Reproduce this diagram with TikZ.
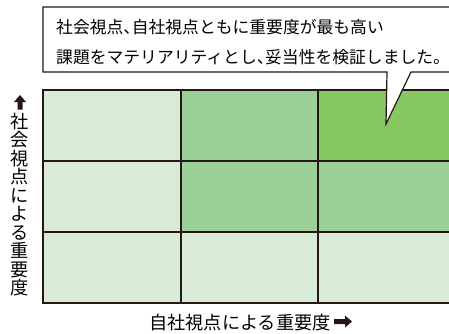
\documentclass[tikz,border=0pt]{standalone}
\usepackage{fontspec}
\newfontfamily\jp[RawFeature=+halt]{Noto Sans CJK JP}
\newfontfamily\jpax{Noto Sans CJK JP}
\definecolor{cellA}{RGB}{217,235,214}
\definecolor{cellB}{RGB}{155,209,153}
\definecolor{cellC}{RGB}{134,199,100}
\definecolor{edge}{RGB}{35,24,21}
\tikzset{
  cell/.style={draw=edge,line width=1.3pt,anchor=north west,inner sep=0pt,outer sep=0pt,minimum height=71pt},
  colA/.style={cell,minimum width=138pt},
  colB/.style={cell,minimum width=137pt},
  colC/.style={cell,minimum width=142pt},
  calltext/.style={anchor=base west,inner sep=0pt,font=\jp\fontsize{16.8}{20}\selectfont},
  axislab/.style={inner sep=0pt,font=\jpax\fontsize{18.2}{18.5}\selectfont},
  fatarrow/.style={fill=edge}
}
\begin{document}
\begin{tikzpicture}[x=1pt,y=-1pt]
\useasboundingbox (0,0) rectangle (449,333);
\clip (0,0) rectangle (449,333);
% grid
\node[colA,fill=cellA] (c11) at (43,90) {};
\node[colB,fill=cellB] (c12) at (181,90) {};
\node[colC,fill=cellC] (c13) at (318,90) {};
\node[colA,fill=cellA] (c21) at (43,161) {};
\node[colB,fill=cellB] (c22) at (181,161) {};
\node[colC,fill=cellB] (c23) at (318,161) {};
\node[colA,fill=cellA] (c31) at (43,232) {};
\node[colB,fill=cellA] (c32) at (181,232) {};
\node[colC,fill=cellA] (c33) at (318,232) {};
% callout
\draw[edge,line width=1.2pt,fill=white,line join=miter]
  (387,72) -- (43,72) -- (43,7) -- (470,7) -- (470,72) -- (411,72) -- (386,124) -- cycle;
\node[calltext] (t1) at (56,33) {社会視点、自社視点ともに重要度が最も高い};
\node[calltext] (t2) at (56,63) {課題をマテリアリティとし、妥当性を検証しました。};
% axis labels
\coordinate (ytip) at (20,95);
\fill[fatarrow] (ytip) -- ++(6,7) -- ++(-3.5,0) -- ++(0,7.5) -- ++(-5,0) -- ++(0,-7.5) -- ++(-3.5,0) -- cycle;
\node[axislab,align=center] (ylab) at (20,204.5) {社\\会\\視\\点\\に\\よ\\る\\重\\要\\度};
\node[axislab,anchor=base] (xlab) at (240,329.5) {自社視点による重要度};
\coordinate (xtip) at (352,321.5);
\fill[fatarrow] (xtip) -- ++(-7,-6) -- ++(0,3.5) -- ++(-11,0) -- ++(0,5) -- ++(11,0) -- ++(0,3.5) -- cycle;
\end{tikzpicture}
\end{document}
